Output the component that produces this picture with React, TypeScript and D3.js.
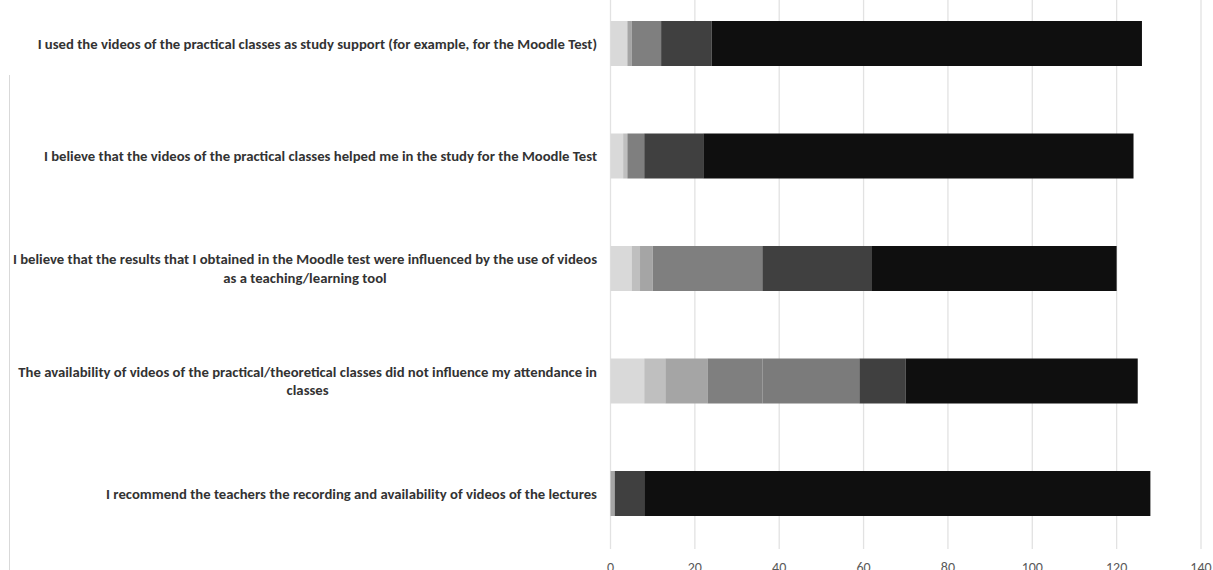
import React, { useEffect, useRef } from "react";
import * as d3 from "d3";

// Survey statements (one horizontal bar each); "\n" marks the label wrap
const categories = [
  "I used the videos of the practical classes as study support (for example, for the Moodle Test)",
  "I believe that the videos of the practical classes helped me in the study for the Moodle Test",
  "I believe that the results that I obtained in the Moodle test were influenced by the use of videos\nas a teaching/learning tool",
  "The availability of videos of the practical/theoretical classes did not influence my attendance in\nclasses",
  "I recommend the teachers the recording and availability of videos of the lectures",
];

// Answer counts per agreement level, in category order
const level1 = [4, 3, 5, 8, 0];
const level2 = [0, 1, 2, 5, 0];
const level3 = [1, 0, 3, 10, 1];
const level4 = [7, 4, 26, 13, 0];
const level5 = [0, 0, 0, 23, 0];
const level6 = [12, 14, 26, 11, 7];
const level7 = [102, 102, 58, 55, 120];

const levelColors = ["#d9d9d9", "#bfbfbf", "#a5a5a5", "#7f7f7f", "#7b7b7b", "#404040", "#0f0f0f"];

const xTicks = [0, 20, 40, 60, 80, 100, 120, 140];

const W = 1213;
const H = 570;
const FONT = "Carlito, Lato, 'Open Sans', sans-serif";

export default function App() {
  const ref = useRef<SVGSVGElement | null>(null);

  useEffect(() => {
    const svg = d3.select(ref.current);
    svg.selectAll("*").remove();

    const levels = [level1, level2, level3, level4, level5, level6, level7];
    const rows = categories.map((c, i) => {
      const r: any = { category: c };
      levels.forEach((arr, k) => (r["l" + k] = arr[i]));
      return r;
    });
    const keys = levels.map((_, k) => "l" + k);
    const stacked = d3.stack<any>().keys(keys)(rows);

    const x = d3.scaleLinear().domain([0, 140]).range([610.5, 1201]);
    const y = d3
      .scaleBand<string>()
      .domain(categories)
      .range([-12.75, 549.75])
      .paddingInner(0.6)
      .paddingOuter(0.3);

    const plotBottom = 549;

    // vertical gridlines
    svg
      .append("g")
      .selectAll("line")
      .data(xTicks)
      .join("line")
      .attr("x1", (d) => x(d))
      .attr("x2", (d) => x(d))
      .attr("y1", 0)
      .attr("y2", plotBottom)
      .attr("stroke", "#e2e2e2")
      .attr("stroke-width", 1.3);

    // left frame edge
    svg
      .append("line")
      .attr("x1", 9.5)
      .attr("x2", 9.5)
      .attr("y1", 75)
      .attr("y2", H)
      .attr("stroke", "#d9d9d9")
      .attr("stroke-width", 1);

    // stacked bars
    svg
      .append("g")
      .selectAll("g")
      .data(stacked)
      .join("g")
      .attr("fill", (_, k) => levelColors[k])
      .selectAll("rect")
      .data((s) => s)
      .join("rect")
      .attr("x", (d) => x(d[0]))
      .attr("width", (d) => Math.max(0, x(d[1]) - x(d[0])))
      .attr("y", (d: any) => y(d.data.category)!)
      .attr("height", y.bandwidth());

    // x tick labels
    svg
      .append("g")
      .selectAll("text")
      .data(xTicks)
      .join("text")
      .attr("x", (d) => x(d))
      .attr("y", 572)
      .attr("text-anchor", "middle")
      .attr("font-family", FONT)
      .attr("font-size", 14)
      .attr("fill", "#595959")
      .text((d) => d);

    // category labels: size the font so the first statement spans its column,
    // then center each wrapped block against the axis
    const labelRight = 597;
    const measure = svg
      .append("text")
      .attr("font-family", FONT)
      .attr("font-weight", 600)
      .attr("font-size", 14)
      .text(categories[0]);
    const baseW = (measure.node() as SVGTextElement).getComputedTextLength();
    const fontSize = (14 * 560) / baseW;
    measure.attr("font-size", fontSize);
    const widthOf = (s: string) => {
      measure.text(s);
      return (measure.node() as SVGTextElement).getComputedTextLength();
    };
    const lineH = 18.5;

    categories.forEach((c) => {
      const lines = c.split("\n");
      const blockW = Math.max(...lines.map(widthOf));
      const cx = labelRight - blockW / 2;
      const cy = y(c)! + y.bandwidth() / 2;
      lines.forEach((ln, k) => {
        svg
          .append("text")
          .attr("x", cx)
          .attr("y", cy + (k - (lines.length - 1) / 2) * lineH)
          .attr("dominant-baseline", "central")
          .attr("text-anchor", "middle")
          .attr("font-family", FONT)
          .attr("font-weight", 600)
          .attr("font-size", fontSize)
          .attr("fill", "#333333")
          .text(ln);
      });
    });
    measure.remove();
  }, []);

  return (
    <div style={{ position: "absolute", left: 0, top: 0 }}>
      <svg ref={ref} width={W} height={H} style={{ display: "block", background: "#fff" }} />
    </div>
  );
}
